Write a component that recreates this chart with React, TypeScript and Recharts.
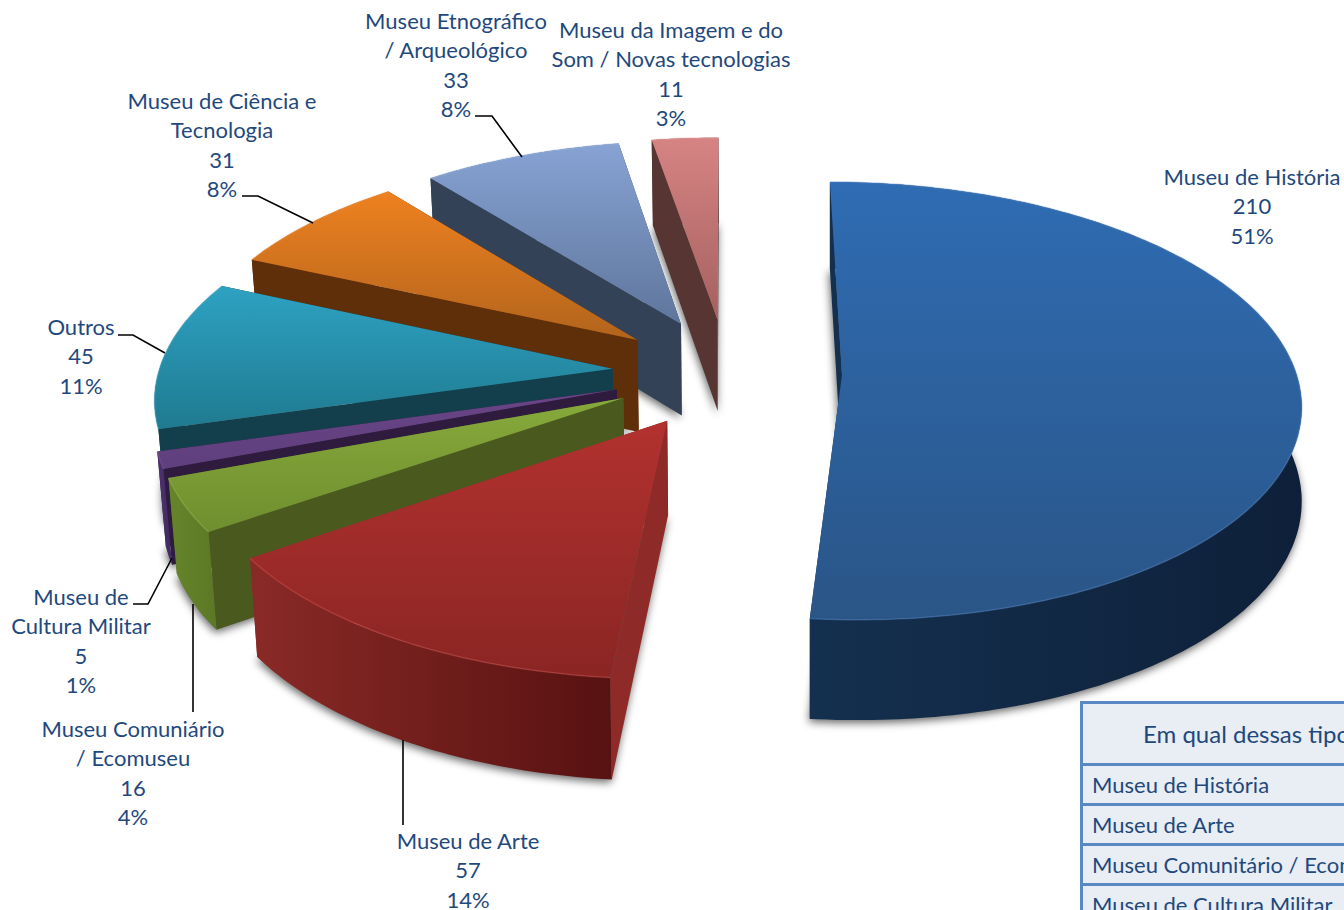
import { Pie, PieChart } from "recharts";

const categories = [
  "Museu de História",
  "Museu de Arte",
  "Museu Comunitário / Ecomuseu",
  "Museu de Cultura Militar",
  "Outros",
  "Museu de Ciência e Tecnologia",
  "Museu Etnográfico / Arqueológico",
  "Museu da Imagem e do Som / Novas tecnologias",
];
const counts = [210, 57, 16, 5, 45, 31, 33, 11];
const labelLines = [
  ["Museu de História"],
  ["Museu de Arte"],
  ["Museu Comuniário", "/ Ecomuseu"],
  ["Museu de", "Cultura Militar"],
  ["Outros"],
  ["Museu de Ciência e", "Tecnologia"],
  ["Museu Etnográfico", "/ Arqueológico"],
  ["Museu da Imagem e do", "Som / Novas tecnologias"],
];
const tableTitle = "Em qual dessas tipologias";

// top face gradient, radial wall, rim wall gradient
const topColors = [
  ["#2f6cb3", "#2a5587"],
  ["#b2322f", "#8a2523"],
  ["#87aa3b", "#6f8e2f"],
  ["#6a4587", "#5f3f7d"],
  ["#2ea2c2", "#1f7a90"],
  ["#ee8120", "#b2641c"],
  ["#87a3d4", "#5f769c"],
  ["#d68483", "#a56060"],
];
const wallColors = ["#14304f", "#8e2a27", "#4a5a1e", "#2e1b3e", "#133f4d", "#5f2f0a", "#344257", "#573533"];
const rimColors = [
  ["#14304f", "#0e2039"],
  ["#8a2a27", "#571211"],
  ["#66852a", "#5c7826"],
  ["#4e3270", "#3f2860"],
  ["#133f4d", "#133f4d"],
  ["#5f2f0a", "#5f2f0a"],
  ["#344257", "#344257"],
  ["#573533", "#573533"],
];
const edgeColors = ["#4f83c4", "#cf5350", "#9cbb58", "#8064a2", "#4bacc6", "#f79646", "#a0b8de", "#e6a5a4"];

// label centre x, first line centre y
const labelSpots = [
  [1252, 176],
  [468, 840],
  [133, 728],
  [81, 596],
  [81, 326],
  [222, 100],
  [456, 20],
  [671, 29],
];
const leaders = [
  "",
  "403,740 403,825",
  "193,604 193,712",
  "133,604 148,604 172,558",
  "118,335 133,335 165,353",
  "242,196 258,196 313,223",
  "475,116 492,116 522,157",
  "",
];

const WIDTH = 1344;
const HEIGHT = 910;
const CX = 727;
const CY = 372.5;
const RADIUS = 454;
const EXPLODE = 115;
const TILT = 0.474;
const PERSPECTIVE = 0.00026;
const DEPTH = 93;
const TEXT = "#1f497d";
const FONT = "Lato, 'Open Sans', sans-serif";

const rows = categories
  .map((name, slot) => ({ name, value: counts[slot], slot }))
  .reverse();

const rad = (deg: number) => (deg * Math.PI) / 180;

function project(deg: number, r: number, mid: number, down: boolean) {
  const X = EXPLODE * Math.cos(rad(mid)) + r * Math.cos(rad(deg));
  const Y = EXPLODE * Math.sin(rad(mid)) + r * Math.sin(rad(deg));
  const s = 1 / (1 + PERSPECTIVE * Y);
  let x = CX + X * s;
  let y = CY - Y * TILT * s;
  if (down) {
    y += DEPTH * Math.pow(s, 0.6);
    // the left side leans in slightly towards the bottom
    x += Math.max(0, CX - x) * 0.015;
  }
  return [x, y];
}

function arc(start: number, end: number, mid: number, down: boolean) {
  const pts = [];
  const n = Math.max(2, Math.ceil(end - start));
  for (let i = 0; i <= n; i++) {
    pts.push(project(start + ((end - start) * i) / n, RADIUS, mid, down));
  }
  return pts;
}

const toPath = (pts: number[][]) => "M" + pts.map((p) => p[0].toFixed(1) + " " + p[1].toFixed(1)).join("L") + "Z";

const ShadowSector = (props: any) => {
  const { startAngle, endAngle } = props;
  const mid = (startAngle + endAngle) / 2;
  const apex = project(0, 0, mid, true);
  const pts = [apex, ...arc(startAngle, endAngle, mid, true)];
  return <path d={toPath(pts)} fill="#000" fillOpacity={0.6} style={{ filter: "blur(4px)" }} transform="translate(-1 3)" />;
};

const Slice3D = (props: any) => {
  const { startAngle, endAngle, index } = props;
  const slot = rows[index].slot;
  const mid = (startAngle + endAngle) / 2;
  const top = arc(startAngle, endAngle, mid, false);
  const bottom = arc(startAngle, endAngle, mid, true);
  const apexTop = project(0, 0, mid, false);
  const apexBottom = project(0, 0, mid, true);
  const last = top.length - 1;
  return (
    <g>
      <defs>
        <linearGradient id={"top" + slot} x1="0" y1="0" x2="0" y2="1">
          <stop offset="0" stopColor={topColors[slot][0]} />
          <stop offset="1" stopColor={topColors[slot][1]} />
        </linearGradient>
        <linearGradient id={"rim" + slot} x1="0" y1="0" x2="1" y2="0">
          <stop offset="0" stopColor={rimColors[slot][0]} />
          <stop offset="1" stopColor={rimColors[slot][1]} />
        </linearGradient>
      </defs>
      <path d={toPath([top[0], bottom[0], apexBottom, apexTop])} fill={wallColors[slot]} />
      <path d={toPath([top[last], bottom[last], apexBottom, apexTop])} fill={wallColors[slot]} />
      <path d={toPath([...top, ...[...bottom].reverse()])} fill={`url(#rim${slot})`} />
      <path d={toPath([apexTop, ...top])} fill={`url(#top${slot})`} />
      <path
        d={"M" + top.map((p) => p[0].toFixed(1) + " " + p[1].toFixed(1)).join("L")}
        fill="none"
        stroke={edgeColors[slot]}
        strokeWidth={1.5}
        strokeOpacity={0.45}
      />
    </g>
  );
};

const renderLabel = (props: any) => {
  const slot = rows[props.index].slot;
  const [x, y] = labelSpots[slot];
  const lines = [...labelLines[slot], String(counts[slot]), Math.round(props.percent * 100) + "%"];
  return (
    <g key={slot}>
      {leaders[slot] && <polyline points={leaders[slot]} fill="none" stroke="#000" strokeWidth={1.6} />}
      {lines.map((line, i) => (
        <text
          key={i}
          x={x}
          y={y + i * 29.6}
          textAnchor="middle"
          dominantBaseline="central"
          fontFamily={FONT}
          fontSize={22}
          fill={TEXT}
        >
          {line}
        </text>
      ))}
    </g>
  );
};

const cellStyle = {
  position: "absolute" as const,
  left: 0,
  width: 420,
  boxSizing: "border-box" as const,
  background: "#e9edf4",
  borderBottom: "3px solid #5a88c2",
  color: TEXT,
  fontFamily: FONT,
  fontSize: 22,
  display: "flex",
  alignItems: "center",
  whiteSpace: "nowrap" as const,
};

export default function App() {
  return (
    <div style={{ position: "absolute", left: 0, top: 0, width: WIDTH, height: HEIGHT, overflow: "hidden", background: "#fff" }}>
      <PieChart width={WIDTH} height={HEIGHT} margin={{ top: 0, right: 0, bottom: 0, left: 0 }}>
        <Pie
          data={rows}
          dataKey="value"
          nameKey="name"
          cx={CX}
          cy={CY}
          outerRadius={RADIUS}
          startAngle={90}
          endAngle={450}
          stroke="none"
          isAnimationActive={false}
          shape={ShadowSector}
        />
        <Pie
          data={rows}
          dataKey="value"
          nameKey="name"
          cx={CX}
          cy={CY}
          outerRadius={RADIUS}
          startAngle={90}
          endAngle={450}
          stroke="none"
          isAnimationActive={false}
          shape={Slice3D}
          label={renderLabel}
          labelLine={false}
        />
      </PieChart>
      <div style={{ position: "absolute", left: 1080, top: 701, width: 420, height: 260, borderLeft: "3px solid #5a88c2", borderTop: "3px solid #5a88c2" }}>
        <div style={{ ...cellStyle, top: 0, height: 62, paddingLeft: 60, fontSize: 24 }}>{tableTitle}</div>
        {categories.slice(0, 4).map((name, i) => (
          <div key={name} style={{ ...cellStyle, top: 62 + i * 40, height: 40, paddingLeft: 9 }}>
            {name}
          </div>
        ))}
      </div>
    </div>
  );
}
